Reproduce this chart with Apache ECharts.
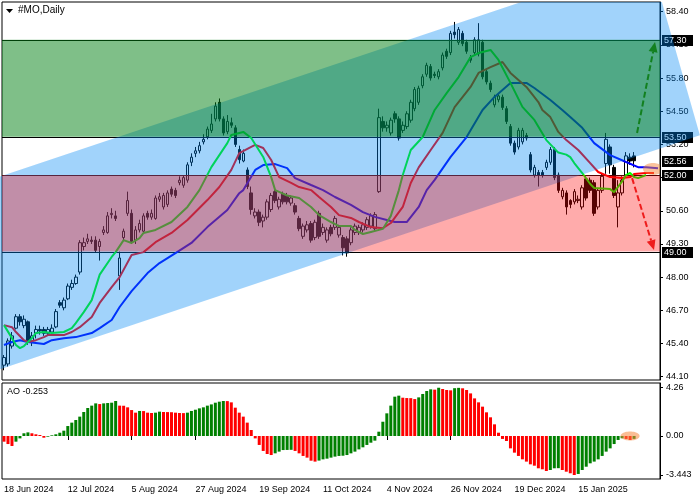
<!DOCTYPE html>
<html><head><meta charset="utf-8">
<script src="https://cdn.jsdelivr.net/npm/echarts@6/dist/echarts.min.js"></script>
<style>html,body{margin:0;padding:0;background:#fff}#c{width:700px;height:500px}</style>
</head><body><div id="c"></div>
<script>
// ---------- DATA ----------
const opens=[44.55,44.60,45.30,46.00,46.45,46.10,46.25,45.50,45.80,45.95,45.95,45.80,45.85,46.05,47.00,46.80,47.15,47.60,47.75,48.20,
49.20,49.40,49.45,49.45,49.20,49.75,49.75,50.45,50.40,48.05,49.55,50.50,50.50,49.45,49.85,49.80,50.50,50.35,50.30,51.05,
50.75,50.85,51.45,51.40,51.70,51.60,51.80,52.50,52.85,52.95,53.30,53.50,53.75,54.20,54.85,54.20,53.70,54.05,53.85,53.00,
52.55,52.20,51.30,50.40,50.55,50.20,50.35,50.65,51.35,50.75,51.25,51.20,50.90,50.80,50.30,49.60,49.85,50.10,49.55,50.50,
49.75,49.45,49.95,49.95,49.65,49.55,49.50,49.35,49.75,49.75,49.85,49.95,50.00,49.90,51.35,54.10,53.85,53.65,54.40,54.20,
53.75,53.90,54.15,54.60,54.85,55.50,55.95,56.25,55.95,55.85,56.20,56.85,56.80,57.60,57.20,57.55,57.20,56.60,56.80,56.75,
57.20,56.05,55.60,54.75,54.95,55.05,54.60,53.90,53.25,53.10,53.30,53.55,52.80,52.00,52.10,52.10,52.30,52.50,53.00,52.00,
51.15,51.30,51.00,50.95,51.00,50.75,51.85,51.80,51.70,50.75,51.40,52.45,53.10,52.30,50.75,51.30,52.00,52.70,52.75];
const closes=[44.85,45.50,45.70,46.45,46.25,46.35,45.50,45.70,45.95,45.90,45.80,45.95,46.00,46.65,46.90,47.10,47.65,47.75,48.00,49.35,
49.35,49.50,49.40,49.05,49.40,49.85,50.40,50.50,50.30,48.75,49.80,51.00,49.40,49.85,50.10,50.40,50.35,50.50,51.10,51.15,
51.20,51.30,51.25,51.20,51.80,51.90,52.40,52.70,52.95,53.15,53.40,53.80,54.00,54.70,54.20,53.65,54.10,53.95,53.20,52.60,
52.85,51.55,50.65,50.55,50.15,50.35,50.95,51.20,51.00,51.05,50.95,50.95,51.10,50.55,49.90,50.00,50.05,49.45,50.15,49.60,
49.95,49.85,49.70,50.30,49.95,49.15,48.95,49.85,50.00,49.95,50.05,50.25,50.40,50.45,54.25,53.85,53.95,54.15,54.20,53.45,
53.95,54.40,54.85,55.35,55.40,55.85,56.30,55.80,55.90,56.05,56.70,56.65,57.55,57.50,57.70,57.15,56.85,56.50,57.30,57.30,
55.85,55.65,55.35,55.05,55.10,54.65,54.10,53.25,52.90,53.75,53.75,53.45,52.20,52.30,52.00,52.00,52.50,53.00,51.90,51.40,
51.40,50.75,50.85,51.35,51.05,51.50,51.10,51.40,50.50,51.40,51.95,53.40,52.40,51.20,51.30,51.80,52.75,52.55,52.56];
const highs=[44.95,45.60,45.85,46.55,46.55,46.50,46.30,45.85,46.10,46.10,46.05,46.05,46.15,46.75,47.10,47.20,47.75,47.90,48.10,49.45,
49.55,49.70,49.60,49.60,49.50,50.00,50.55,50.70,50.60,49.00,49.90,51.35,50.65,50.00,50.25,50.50,50.60,50.65,51.20,51.30,
51.30,51.40,51.55,51.50,51.95,52.00,52.50,52.85,53.10,53.30,53.60,53.90,54.40,54.85,55.00,54.30,54.35,54.25,53.95,53.15,
53.00,52.30,51.55,50.70,50.65,50.45,51.05,51.30,51.45,51.15,51.35,51.30,51.20,50.90,50.40,50.10,50.20,50.20,50.25,50.60,
50.10,49.95,50.05,50.40,50.05,49.65,49.60,49.95,50.10,50.05,50.15,50.35,50.50,50.55,54.60,54.30,54.10,54.25,54.50,54.30,
54.10,54.50,54.95,55.45,55.50,55.95,56.40,56.35,56.05,56.15,56.80,56.95,57.65,58.00,57.80,57.65,57.30,56.70,57.40,57.95,
57.30,56.15,55.70,55.15,55.20,55.15,54.70,54.00,53.35,53.85,53.85,53.65,52.90,52.40,52.20,52.20,52.60,53.10,53.10,52.10,
51.50,51.40,51.05,51.45,51.20,51.60,51.95,51.90,51.80,51.50,52.05,53.65,53.20,52.40,51.80,51.95,52.90,52.85,52.90];
const lows=[44.35,44.50,45.20,45.95,46.10,46.00,45.35,45.30,45.60,45.75,45.70,45.70,45.75,46.00,46.80,46.70,47.10,47.50,47.70,48.10,
49.05,49.30,49.30,48.95,48.65,49.65,49.70,50.30,50.20,47.50,49.45,50.40,49.30,49.30,49.75,49.70,50.25,50.25,50.25,50.95,
50.65,50.75,51.15,51.10,51.60,51.50,51.70,52.35,52.70,52.85,53.20,53.40,53.65,54.10,54.10,53.55,53.60,53.85,53.10,52.45,
52.50,51.45,50.45,50.30,50.00,49.95,50.25,50.55,50.90,50.65,50.85,50.85,50.80,50.45,49.80,49.50,49.75,49.35,49.45,49.50,
49.65,49.35,49.60,49.85,49.55,48.85,48.80,49.25,49.65,49.65,49.75,49.85,49.90,49.80,51.30,53.70,53.70,53.55,54.05,53.35,
53.65,53.80,54.05,54.50,54.75,55.40,55.85,55.70,55.80,55.75,56.10,56.55,56.70,57.35,57.10,57.05,56.75,56.40,56.70,56.65,
55.75,55.55,55.25,54.65,54.85,54.55,54.00,53.15,52.80,53.00,53.20,53.35,52.10,51.90,51.55,51.90,52.20,52.40,51.80,51.30,
51.05,50.45,50.70,50.85,50.90,50.65,51.00,51.30,50.40,50.65,51.30,52.05,52.05,51.10,49.95,51.20,51.90,52.40,52.30];

// Alligator lines: [bar index, price]
const lipsPts=[[0,46.12],[2,45.61],[3,45.34],[4,45.22],[5,45.30],[7,45.61],[8,45.81],[10,45.85],[12,45.81],[15,45.85],[17,46.00],[18,46.20],[20,46.63],[22,47.10],[23,47.60],[24,48.10],[27,48.79],[28,48.98],[30,49.45],[32,49.34],[34,49.53],[35,49.73],[38,49.85],[42,50.16],[46,50.75],[49,51.41],[52,52.31],[56,53.25],[57,53.57],[59,53.65],[60,53.69],[62,53.45],[65,52.71],[67,51.92],[68,51.41],[71,51.20],[74,51.10],[77,50.75],[79,50.43],[82,50.16],[84,50.00],[87,50.00],[88,49.85],[90,49.69],[92,49.77],[95,49.89],[97,50.40],[99,51.40],[100,52.00],[102,52.98],[105,53.49],[108,54.55],[111,55.21],[114,55.84],[117,56.62],[119,56.78],[122,56.90],[124,56.51],[127,55.61],[130,54.67],[133,54.16],[136,53.37],[139,52.88],[141,52.80],[142,52.70],[143,52.47],[145,52.08],[147,51.65],[148,51.49],[152,51.45],[153,51.33],[155,51.75],[156,52.00],[157,52.08],[158,51.92],[159,51.88],[161,52.00]];
const teethPts=[[0,46.12],[2,46.04],[3,45.85],[5,45.53],[6,45.46],[8,45.53],[10,45.65],[11,45.73],[15,45.73],[17,45.85],[19,46.04],[22,46.44],[24,46.99],[27,47.61],[29,48.00],[32,48.87],[35,48.98],[38,49.37],[42,49.73],[46,50.24],[51,51.02],[54,51.53],[57,52.20],[59,52.86],[62,53.10],[63,53.18],[65,53.06],[67,52.59],[69,51.92],[72,51.69],[74,51.53],[77,51.41],[79,51.14],[82,50.75],[84,50.43],[87,50.32],[89,50.16],[92,49.96],[95,49.92],[97,50.12],[100,50.75],[102,51.69],[104,52.30],[107,52.98],[110,53.65],[113,54.66],[117,55.45],[119,56.00],[122,56.23],[125,56.43],[127,56.00],[131,55.45],[134,54.86],[135,54.55],[137,54.27],[139,53.69],[141,53.37],[144,52.98],[147,52.47],[149,52.12],[152,51.92],[155,51.88],[157,51.92],[158,52.04],[161,52.08],[163,52.08]];
const jawPts=[[0,45.34],[2,45.46],[4,45.53],[6,45.46],[8,45.42],[10,45.38],[12,45.53],[15,45.61],[18,45.65],[22,45.81],[24,46.00],[27,46.32],[29,46.83],[32,47.45],[36,48.16],[39,48.55],[43,48.94],[47,49.34],[51,49.96],[56,50.63],[59,51.29],[60,51.41],[63,52.20],[65,52.39],[68,52.43],[71,52.27],[73,51.88],[77,51.61],[80,51.41],[83,51.14],[87,50.83],[90,50.55],[93,50.36],[96,50.24],[98,50.16],[101,50.16],[104,50.75],[106,51.41],[108,51.81],[112,52.71],[116,53.49],[120,54.55],[123,55.06],[127,55.61],[131,55.61],[133,55.41],[137,54.94],[140,54.55],[142,54.27],[145,53.85],[148,53.25],[152,52.78],[156,52.51],[159,52.31],[161,52.31],[164,52.27]];

const aoValues=[-0.50,-0.71,-0.88,-0.50,-0.21,0.24,0.32,0.24,0.15,0.09,-0.15,-0.06,0.06,0.15,0.29,0.47,0.88,1.18,1.41,1.71,
2.12,2.47,2.68,2.88,2.82,2.88,2.91,2.94,3.09,2.68,2.67,2.53,2.29,2.06,2.21,2.20,2.06,2.03,2.06,2.15,
2.12,2.11,2.10,2.06,2.03,2.02,2.06,2.21,2.32,2.44,2.53,2.68,2.79,2.94,3.03,3.09,3.08,2.97,2.50,2.06,
1.71,1.18,0.53,-0.21,-0.79,-1.32,-1.59,-1.68,-1.53,-1.38,-1.24,-1.23,-1.22,-1.32,-1.53,-1.76,-1.91,-2.18,-2.26,-2.17,
-2.06,-2.00,-1.91,-1.82,-1.76,-1.74,-1.68,-1.53,-1.38,-1.18,-1.00,-0.79,-0.59,-0.41,0.38,1.26,2.00,2.68,3.47,3.56,
3.38,3.35,3.34,3.26,3.41,3.71,3.97,4.12,4.09,4.26,4.15,4.06,4.03,4.22,4.25,4.21,4.06,3.76,3.32,2.97,
2.59,2.09,1.65,1.03,0.29,-0.26,-0.44,-1.09,-1.47,-1.76,-2.06,-2.26,-2.50,-2.62,-2.85,-2.94,-3.09,-3.00,-2.85,-2.84,
-3.00,-3.15,-3.29,-3.443,-3.35,-3.00,-2.71,-2.41,-2.26,-2.06,-1.76,-1.38,-1.09,-0.71,-0.35,-0.20,-0.26,-0.35,-0.253];

const startDate='2024-06-18';
const holidays=['2024-06-19','2024-07-04','2024-09-02','2024-11-28','2024-12-25','2025-01-01','2025-01-09','2025-01-20'];
const totalSlots=165;
const labelEvery=16;
const priceTicks=[58.40,57.10,55.80,54.50,53.20,51.90,50.60,49.30,48.00,46.70,45.40,44.10];
const aoTicks=[4.26,0,-3.443];
const aoTickLabels=['4.26','0.00','-3.443'];
const greenZone=[53.50,57.30];
const redZone=[49.00,52.00];
const levelLines=[57.30,53.50,52.00,49.00];
const priceBoxes=[57.30,53.50,52.56,52.00,49.00];
const channelUpper=[[0,52.00],[150,59.84]];
const channelLower=[[0,44.44],[150,52.28]];
const channelEnd={upper:161.9,lower:174.5};
const upArrow=[[158.75,53.65],[163.25,57.21]];
const downArrow=[[157.5,51.88],[163,49.06]];
const mainMark=[162.75,52.24];
const aoMark=[157,0];

// ---------- BUILD ----------
const MONTHS=['Jan','Feb','Mar','Apr','May','Jun','Jul','Aug','Sep','Oct','Nov','Dec'];
function tradingDays(start,count){
  const out=[];const d=new Date(start+'T00:00:00Z');
  while(out.length<count){
    const dow=d.getUTCDay();const iso=d.toISOString().slice(0,10);
    if(dow!==0&&dow!==6&&holidays.indexOf(iso)<0) out.push(d.getUTCDate()+' '+MONTHS[d.getUTCMonth()]+' '+d.getUTCFullYear());
    d.setUTCDate(d.getUTCDate()+1);
  }
  return out;
}
const categories=tradingDays(startDate,totalSlots);
const nBars=closes.length;
const candleData=opens.map((o,i)=>[o,closes[i],lows[i],highs[i]]);

const FONT='Liberation Sans';
function mapper(api){
  const a=api.coord([0,50])[0], b=api.coord([1,50])[0];
  return {X:i=>a+(b-a)*i, Y:p=>api.coord([0,p])[1]};
}
function inter(a,b,y){const t=(y-a[1])/(b[1]-a[1]);return [a[0]+t*(b[0]-a[0]),y];}
function clipY(pts,yLim,keepBelow){
  const inside=p=>keepBelow?p[1]>=yLim:p[1]<=yLim;const out=[];
  for(let k=0;k<pts.length;k++){
    const cur=pts[k],prev=pts[(k+pts.length-1)%pts.length];
    const ci=inside(cur),pi=inside(prev);
    if(ci){if(!pi)out.push(inter(prev,cur,yLim));out.push(cur);}
    else if(pi)out.push(inter(prev,cur,yLim));
  }
  return out;
}
const chSlope=(channelUpper[1][1]-channelUpper[0][1])/(channelUpper[1][0]-channelUpper[0][0]);
const chUp=i=>channelUpper[0][1]+chSlope*(i-channelUpper[0][0]);
const chLo=i=>channelLower[0][1]+chSlope*(i-channelLower[0][0]);

function renderChannel(params,api){
  const cs=params.coordSys;const m=mapper(api);
  let poly=[[m.X(-4),m.Y(chUp(-4))],[m.X(channelEnd.upper),m.Y(chUp(channelEnd.upper))],
            [m.X(channelEnd.lower),m.Y(chLo(channelEnd.lower))],[m.X(-4),m.Y(chLo(-4))]];
  poly=clipY(poly,cs.y,true);poly=clipY(poly,cs.y+cs.height,false);
  return {type:'polygon',shape:{points:poly},style:{fill:'rgba(0,135,243,0.37)'},silent:true};
}
function renderZones(params,api){
  const cs=params.coordSys;const m=mapper(api);
  const rect=(z,fill)=>{const y1=m.Y(z[1]),y2=m.Y(z[0]);return {type:'rect',shape:{x:cs.x,y:y1,width:cs.width,height:y2-y1},style:{fill:fill}};};
  return {type:'group',children:[rect(greenZone,'rgba(0,127,17,0.5)'),rect(redZone,'rgba(255,10,10,0.34)')]};
}
function renderLevels(params,api){
  const cs=params.coordSys;const m=mapper(api);
  return {type:'group',children:levelLines.map(p=>{const y=Math.round(m.Y(p))+0.5;
    return {type:'line',shape:{x1:cs.x,y1:y,x2:cs.x+cs.width,y2:y},style:{stroke:'#000',lineWidth:1}};})};
}
function renderBoxes(params,api){
  const cs=params.coordSys;const m=mapper(api);const x=cs.x+cs.width+2;
  const ch=[];
  priceBoxes.forEach(p=>{const y=m.Y(p);
    ch.push({type:'rect',shape:{x:x,y:Math.round(y)-5,width:31,height:11},style:{fill:'#000'}});
    ch.push({type:'text',x:x+2,y:Math.round(y)+0.5,style:{text:p.toFixed(2),fill:'#fff',font:'9px '+FONT,verticalAlign:'middle',align:'left'}});
  });
  return {type:'group',children:ch};
}
function ellipsePts(cx,cy,rx,ry,xmax){
  const pts=[];for(let k=0;k<48;k++){const a=k/48*Math.PI*2;pts.push([Math.min(cx+rx*Math.cos(a),xmax),cy+ry*Math.sin(a)]);}return pts;
}
function renderMainMark(params,api){
  const cs=params.coordSys;const m=mapper(api);
  return {type:'polygon',shape:{points:ellipsePts(m.X(mainMark[0]),m.Y(mainMark[1]),10,6,cs.x+cs.width)},style:{fill:'rgba(245,135,60,0.5)'}};
}
function renderAoMark(params,api){
  const cs=params.coordSys;const m=mapper(api);
  return {type:'polygon',shape:{points:ellipsePts(m.X(aoMark[0]),m.Y(aoMark[1]),9.5,4.5,cs.x+cs.width)},style:{fill:'rgba(245,135,60,0.55)'}};
}
function arrowGroup(m,a,color){
  const sx=m.X(a[0][0]),sy=m.Y(a[0][1]),tx=m.X(a[1][0]),ty=m.Y(a[1][1]);
  const dx=tx-sx,dy=ty-sy,L=Math.hypot(dx,dy),ux=dx/L,uy=dy/L;
  const hl=10,hw=4.5;const bx=tx-ux*hl,by=ty-uy*hl;
  return [
    {type:'line',shape:{x1:sx,y1:sy,x2:bx,y2:by},style:{stroke:color,lineWidth:2,lineDash:[6,3]}},
    {type:'polygon',shape:{points:[[tx,ty],[bx-uy*hw,by+ux*hw],[bx+uy*hw,by-ux*hw]]},style:{fill:color}}
  ];
}
function renderArrows(params,api){
  const m=mapper(api);
  return {type:'group',children:arrowGroup(m,upArrow,'#12801f').concat(arrowGroup(m,downArrow,'#ee1c1c'))};
}
function custom(render,z,grid){
  return {type:'custom',xAxisIndex:grid||0,yAxisIndex:grid||0,data:[[0,grid?0:50]],renderItem:render,z:z,silent:true,animation:false};
}

const chart=echarts.init(document.getElementById('c'),null,{renderer:'canvas'});
chart.setOption({
  animation:false,
  backgroundColor:'#fff',
  textStyle:{fontFamily:FONT},
  grid:[
    {left:2,top:2,width:658,height:378,show:true,borderColor:'#000',borderWidth:1,backgroundColor:'transparent'},
    {left:2,top:383,width:658,height:96,show:true,borderColor:'#000',borderWidth:1,backgroundColor:'transparent'}
  ],
  xAxis:[
    {type:'category',gridIndex:0,data:categories,boundaryGap:true,axisLine:{show:false},axisTick:{show:false},axisLabel:{show:false},splitLine:{show:false}},
    {type:'category',gridIndex:1,data:categories,boundaryGap:true,axisLine:{show:false},
      axisTick:{show:true,alignWithLabel:true,length:4,interval:(i)=>i%labelEvery===0&&i<nBars,lineStyle:{color:'#000'}},
      axisLabel:{show:true,interval:(i)=>i%labelEvery===0&&i<nBars,align:'left',margin:6,fontSize:9,color:'#000',fontFamily:FONT},
      splitLine:{show:false}}
  ],
  yAxis:[
    {type:'value',gridIndex:0,position:'right',min:43.97,max:58.78,splitLine:{show:false},
      axisLine:{show:true,lineStyle:{color:'#000'}},
      axisTick:{show:true,length:3,customValues:priceTicks,lineStyle:{color:'#000'}},
      axisLabel:{show:true,customValues:priceTicks,formatter:v=>v.toFixed(2),margin:6,fontSize:9,color:'#000',fontFamily:FONT}},
    {type:'value',gridIndex:1,position:'right',min:-3.795,max:4.678,splitLine:{show:false},
      axisLine:{show:true,lineStyle:{color:'#000'}},
      axisTick:{show:true,length:3,customValues:aoTicks,lineStyle:{color:'#000'}},
      axisLabel:{show:true,customValues:aoTicks,formatter:v=>{const k=aoTicks.indexOf(v);return k>=0?aoTickLabels[k]:v.toFixed(2);},margin:6,fontSize:9,color:'#000',fontFamily:FONT}}
  ],
  series:[
    {type:'candlestick',xAxisIndex:0,yAxisIndex:0,data:candleData,barWidth:3,z:2,
      itemStyle:{color:'#fff',color0:'#000',borderColor:'#000',borderColor0:'#000',borderWidth:1}},
    {type:'line',xAxisIndex:0,yAxisIndex:0,data:jawPts,showSymbol:false,symbol:'none',lineStyle:{color:'#0000ff',width:2},z:3},
    {type:'line',xAxisIndex:0,yAxisIndex:0,data:teethPts,showSymbol:false,symbol:'none',lineStyle:{color:'#ff0000',width:2},z:3},
    {type:'line',xAxisIndex:0,yAxisIndex:0,data:lipsPts,showSymbol:false,symbol:'none',lineStyle:{color:'#00ff00',width:2},z:3},
    custom(renderLevels,3),
    custom(renderBoxes,3),
    custom(renderChannel,4),
    custom(renderZones,5),
    custom(renderMainMark,6),
    custom(renderArrows,7),
    {type:'bar',xAxisIndex:1,yAxisIndex:1,data:aoValues,barWidth:3,z:2,
      itemStyle:{color:p=>{const i=p.dataIndex;return (i>0&&aoValues[i]>=aoValues[i-1])?'#008000':'#ff0000';}}},
    custom(renderAoMark,6,1)
  ],
  graphic:[
    {type:'polygon',shape:{points:[[6,9],[13,9],[9.5,13]]},style:{fill:'#000'},z:10},
    {type:'text',left:18,top:5,style:{text:'#MO,Daily',font:'10px '+FONT,fill:'#000'},z:10},
    {type:'text',left:7,top:387,style:{text:'AO '+aoValues[nBars-1].toFixed(3),font:'9px '+FONT,fill:'#000'},z:10}
  ]
});
</script>
</body></html>
